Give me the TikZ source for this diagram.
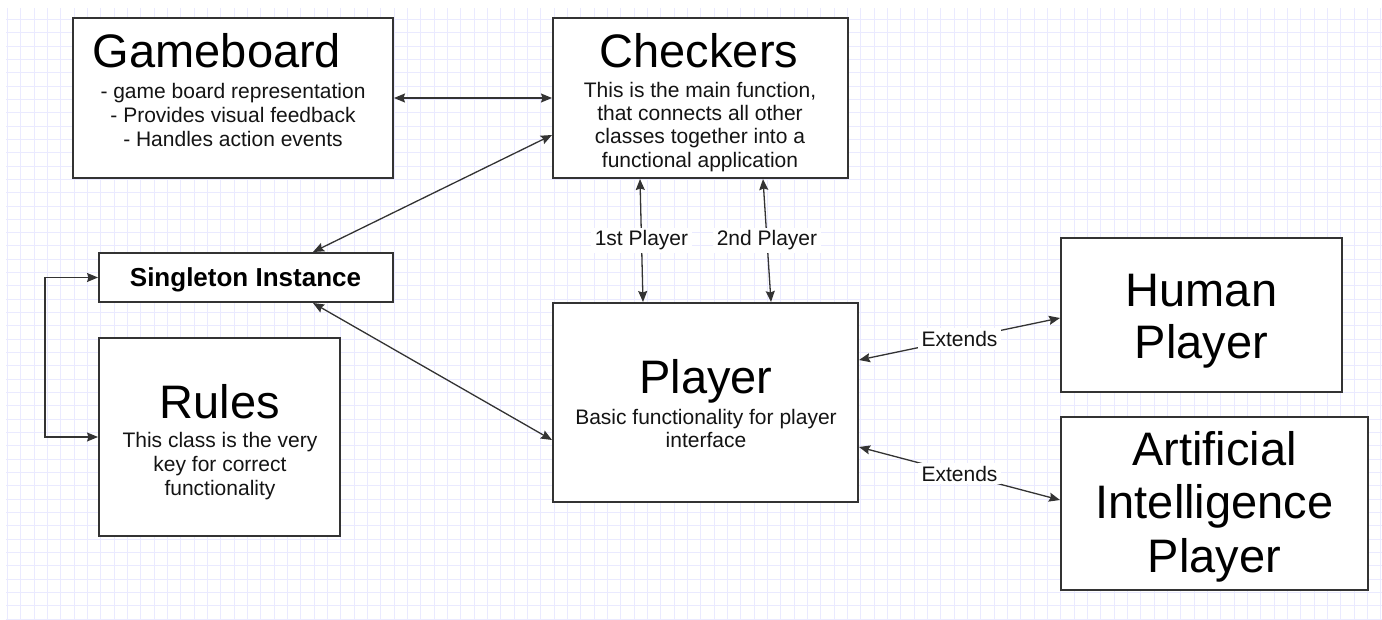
\documentclass[tikz,border=0pt]{standalone}
\usepackage{fontspec}
\setmainfont{Liberation Sans}
\usetikzlibrary{arrows.meta}

\definecolor{gridcol}{RGB}{234,234,255}
\definecolor{edgecol}{RGB}{51,51,51}
\definecolor{txtcol}{RGB}{20,20,20}

\tikzset{
  gridline/.style={draw=gridcol, line width=1pt},
  classbox/.style={draw=edgecol, line width=2pt, fill=white, inner sep=0pt, rectangle},
  title/.style={anchor=base, inner sep=0pt, text=black, font=\fontsize{47}{52}\selectfont},
  sub/.style={anchor=base, inner sep=0pt, text=txtcol, font=\fontsize{21}{24}\selectfont},
  boldtxt/.style={anchor=base, inner sep=0pt, text=black, font=\fontsize{26}{30}\selectfont\bfseries},
  lbl/.style={fill=white, inner xsep=4pt, inner ysep=3pt, text=txtcol, font=\fontsize{21}{24}\selectfont},
  link/.style={draw=edgecol, line width=1.3pt,
    {Stealth[length=11pt,width=9pt,inset=1.5pt]}-{Stealth[length=11pt,width=9pt,inset=1.5pt]}}
}

\begin{document}
\begin{tikzpicture}[x=1pt, y=-1pt]
\useasboundingbox (0,0) rectangle (1382,619);
\fill[white] (0,0) rectangle (1382,619);

% background grid
\begin{scope}
  \clip (6,8) rectangle (1382,619);
  \foreach \i in {0,...,103} \draw[gridline] ({7.5+13.333*\i},8) -- ({7.5+13.333*\i},619);
  \foreach \j in {0,...,46} \draw[gridline] (6,{6+13.333*\j}) -- (1382,{6+13.333*\j});
\end{scope}

% class boxes
\node[classbox, minimum width=320pt, minimum height=160pt] (gb) at (233,98) {};
\node[classbox, minimum width=295pt, minimum height=160pt] (ck) at (700.5,98) {};
\node[classbox, minimum width=294pt, minimum height=49pt]  (si) at (246,277.5) {};
\node[classbox, minimum width=241pt, minimum height=198pt] (ru) at (219.5,437) {};
\node[classbox, minimum width=305pt, minimum height=199pt] (pl) at (705.5,402.5) {};
\node[classbox, minimum width=281pt, minimum height=154pt] (hu) at (1201.5,315) {};
\node[classbox, minimum width=307pt, minimum height=173pt] (ai) at (1214.5,503.5) {};

% Gameboard
\node[title] (gbT) at (217,67) {Gameboard};
\foreach \t [count=\k] in {{- game board representation},{- Provides visual feedback},{- Handles action events}}
  \node[sub] (gbL\k) at (233,{98+24*(\k-1)}) {\t};

% Checkers
\node[title] (ckT) at (699,67) {Checkers};
\foreach \t [count=\k] in {{This is the main function,},{that connects all other},{classes together into a},{functional application}}
  \node[sub] (ckL\k) at (700,{97+23.4*(\k-1)}) {\t};

% Singleton
\node[boldtxt] (siT) at (245.5,286) {Singleton Instance};

% Rules
\node[title] (ruT) at (220,418) {Rules};
\foreach \t [count=\k] in {{This class is the very},{key for correct},{functionality}}
  \node[sub] (ruL\k) at (220,{447+24*(\k-1)}) {\t};

% Player
\node[title] (plT) at (706,393) {Player};
\foreach \t [count=\k] in {{Basic functionality for player},{interface}}
  \node[sub] (plL\k) at (706,{424+23*(\k-1)}) {\t};

% Human Player
\node[title] (huT1) at (1201.5,306) {Human};
\node[title] (huT2) at (1201.5,358) {Player};

% Artificial Intelligence Player
\node[title] (aiT1) at (1214.5,465) {Artificial};
\node[title] (aiT2) at (1214.5,518.5) {Intelligence};
\node[title] (aiT3) at (1214.5,572) {Player};

% connectors
\draw[link] (gb.east) -- (ck.west);
\draw[link] ([xshift=67pt]si.north) -- ([yshift=-37pt]ck.west);
\draw[link] ([xshift=67pt]si.south) -- ([yshift=-37.5pt]pl.west);
\draw[link] (si.west) -- ++(-53,0) |- (ru.west);
\draw[link] ([xshift=-60.5pt]ck.south) -- node[lbl] (l1) {1st Player} ([xshift=-62.5pt]pl.north);
\draw[link] ([xshift=62.5pt]ck.south) -- node[lbl] (l2) {2nd Player} ([xshift=65.5pt]pl.north);
\draw[link] ([yshift=42.5pt]pl.east) -- node[lbl] (l3) {Extends} ([yshift=-3pt]hu.west);
\draw[link] ([yshift=-44.5pt]pl.east) -- node[lbl] (l4) {Extends} ([yshift=3.5pt]ai.west);
\end{tikzpicture}
\end{document}
